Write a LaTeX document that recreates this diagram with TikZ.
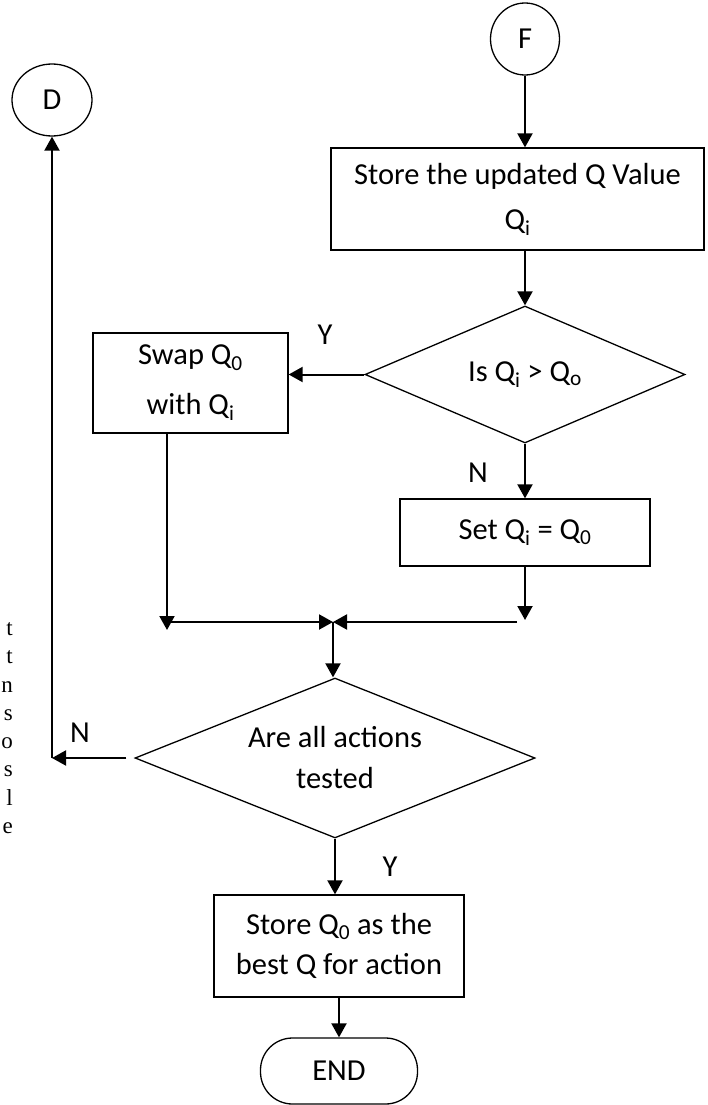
\documentclass[tikz,border=0pt]{standalone}
\usepackage{fontspec}
\setmainfont{Carlito}
\newfontfamily\pageserif{Liberation Serif}
\usetikzlibrary{shapes.geometric,arrows.meta}

\begin{document}
\begin{tikzpicture}[x=1pt,y=-1pt,
  every node/.style={font=\fontsize{30.5}{36}\selectfont},
  box/.style={draw, line width=1.3pt, rectangle, inner sep=0pt, align=center},
  decision/.style={draw, line width=1.3pt, diamond, aspect=2.5, inner sep=0pt, align=center},
  conn/.style={draw, ellipse, line width=1.3pt, inner sep=0pt},
  flow/.style={line width=2pt, -{Triangle[length=14pt,width=15pt]}},
  lbl/.style={inner sep=0pt},
  margin/.style={font=\pageserif\fontsize{23}{27}\selectfont, anchor=base east, inner sep=0pt}]

\useasboundingbox (0,0) rectangle (707,1105);

% connectors (off-page references)
\node[conn, minimum width=69pt, minimum height=72pt] (F) at (525,39) {F};
\node[conn, minimum width=80pt, minimum height=72pt] (D) at (52,100) {D};

% process boxes and decisions
\node[box, minimum width=373pt, minimum height=102pt] (store) at (517.5,199)
  {Store the updated Q Value\\[9pt]Q\textsubscript{i}};
\node[decision, minimum width=320pt, minimum height=137pt] (d1) at (525,374.5)
  {Is Q\textsubscript{i} > Q\textsubscript{o}};
\node[box, minimum width=195pt, minimum height=100pt] (swap) at (190.5,383)
  {Swap Q\textsubscript{0}\\[14pt]with Q\textsubscript{i}};
\node[box, minimum width=250pt, minimum height=67pt] (set) at (525,532.5)
  {Set Q\textsubscript{i} = Q\textsubscript{0}};
\node[decision, minimum width=400pt, minimum height=160pt] (d2) at (335,758)
  {Are all actions\\[5pt]tested};
\node[box, minimum width=250pt, minimum height=102pt] (best) at (339,946)
  {Store Q\textsubscript{0} as the\\[4pt]best Q for action};
\node[box, rounded corners=32pt, minimum width=157pt, minimum height=66pt] (end) at (339,1071) {END};

% branch labels
\node[lbl] (y1) at (325,335) {Y};
\node[lbl] (n1) at (478,473) {N};
\node[lbl] (n2) at (80,733) {N};
\node[lbl] (y2) at (390,867) {Y};

% merge points
\coordinate (lt) at (167,630);
\coordinate (rt) at (525,620);
\coordinate (ls) at (167,622);
\coordinate (rs) at (517,622);
\coordinate (j)  at (333,622);
\coordinate (nc) at (52,758);

% flow lines
\draw[flow] (F.south) -- (F.south |- store.north);
\draw[flow] (store.south -| d1.north) -- (d1.north);
\draw[flow] (d1.west) -- (d1.west -| swap.east);
\draw[flow] (d1.south) -- (set.north);
\draw[flow] (swap.south -| lt) -- (lt);
\draw[flow] (set.south) -- (rt);
\draw[flow] (ls) -- (j);
\draw[flow] (rs) -- (j);
\draw[flow] (j) -- (j |- d2.north);
\draw[flow] ([xshift=-8pt]d2.west) -- (nc);
\draw[flow] (nc) -- (D.south);
\draw[flow] (d2.south) -- (d2.south |- best.north);
\draw[flow] (best.south) -- (end.north);

% line endings of the neighbouring text column
\foreach \c/\yy [count=\k] in {t/635.4, t/663.7, n/692, s/720.3, o/748.6, s/776.9, l/805.2, e/833.5}
  \node[margin] (m\k) at (13,\yy) {\c};
\end{tikzpicture}
\end{document}
